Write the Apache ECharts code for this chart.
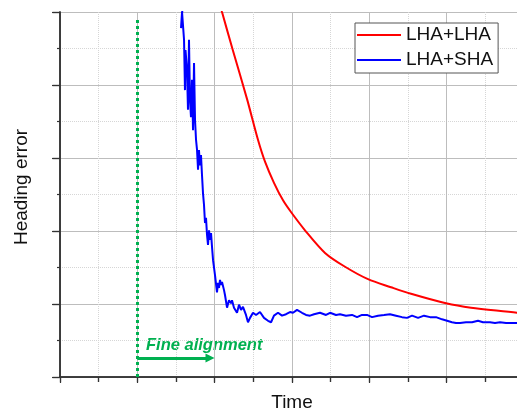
<!DOCTYPE html>
<html>
<head>
<meta charset="utf-8">
<script src="https://cdn.jsdelivr.net/npm/echarts@6/dist/echarts.min.js"></script>
<style>
html,body{margin:0;padding:0;background:#fff;}
#chart{width:517px;height:409px;}
</style>
</head>
<body>
<div id="chart"></div>
<script>
// Data (x: time, 0..6 ; y: heading error, 0..5)
const seriesNames = ['LHA+LHA', 'LHA+SHA'];
const lhaLha = [[2.056,5.16],[2.095,5.00],[2.237,4.47],[2.418,3.81],[2.560,3.25],[2.651,2.95],[2.767,2.66],[2.884,2.42],[2.987,2.26],[3.168,2.01],[3.427,1.70],[3.686,1.51],[3.983,1.34],[4.280,1.23],[4.539,1.14],[4.992,1.01],[5.315,0.95],[5.910,0.88],[6.0,0.86]];
const lhaSha = [[1.591,5.16],[1.565,4.78],[1.578,5.00],[1.604,4.62],[1.616,3.93],[1.623,4.48],[1.642,4.21],[1.655,3.66],[1.668,4.62],[1.681,3.79],[1.694,3.56],[1.707,4.07],[1.720,3.38],[1.733,4.30],[1.746,3.52],[1.759,3.25],[1.772,3.11],[1.785,2.84],[1.797,3.11],[1.810,2.90],[1.823,3.04],[1.836,2.77],[1.849,2.52],[1.862,2.36],[1.875,2.11],[1.888,2.18],[1.901,1.95],[1.914,1.81],[1.927,2.01],[1.940,1.88],[1.953,1.97],[1.966,1.78],[1.979,1.60],[2.004,1.40],[2.030,1.16],[2.043,1.29],[2.056,1.22],[2.069,1.33],[2.082,1.26],[2.095,1.30],[2.121,1.19],[2.134,1.12],[2.160,0.95],[2.185,1.05],[2.211,1.01],[2.224,1.05],[2.250,0.95],[2.289,0.88],[2.315,0.99],[2.341,0.92],[2.366,0.96],[2.405,0.85],[2.431,0.75],[2.457,0.81],[2.496,0.88],[2.535,0.85],[2.586,0.89],[2.638,0.81],[2.690,0.77],[2.729,0.75],[2.767,0.84],[2.819,0.88],[2.871,0.84],[2.923,0.86],[2.974,0.89],[3.013,0.88],[3.065,0.92],[3.129,0.88],[3.181,0.85],[3.233,0.84],[3.285,0.86],[3.362,0.88],[3.440,0.85],[3.492,0.88],[3.569,0.85],[3.621,0.86],[3.698,0.84],[3.776,0.85],[3.841,0.82],[3.905,0.85],[3.970,0.85],[4.035,0.82],[4.112,0.84],[4.190,0.85],[4.267,0.86],[4.345,0.84],[4.423,0.82],[4.487,0.81],[4.552,0.84],[4.630,0.81],[4.707,0.84],[4.785,0.82],[4.862,0.82],[4.940,0.79],[5.005,0.77],[5.069,0.75],[5.121,0.74],[5.173,0.74],[5.250,0.75],[5.328,0.75],[5.405,0.77],[5.470,0.75],[5.561,0.75],[5.625,0.74],[5.690,0.75],[5.768,0.74],[5.845,0.74],[5.910,0.74],[6.000,0.74]];
const fineStartX = 1;        // start of fine alignment
const fineArrowEndX = 1.94;  // arrow end
const fineArrowY = 0.26;
const fineLineTopY = 4.89;
const xRange = [0, 6];
const yRange = [0, 5];
const xTitle = 'Time';
const yTitle = 'Heading error';
const annotation = 'Fine alignment';

const FONT = '"Liberation Sans", Arial, sans-serif';
const GREEN = '#00b050';
const chart = echarts.init(document.getElementById('chart'), null, {renderer: 'canvas'});

const axisLine = {show: true, lineStyle: {color: '#333', width: 1.5}};
const option = {
  animation: false,
  backgroundColor: '#fff',
  grid: {left: 60, top: 12, width: 464, height: 365, containLabel: false, outerBoundsMode: 'none'},
  legend: {
    data: seriesNames, orient: 'vertical', left: 355, top: 23,
    icon: 'rect', itemWidth: 44, itemHeight: 2, itemGap: 5,
    padding: [2, 5, 3, 2], borderColor: '#555', borderWidth: 1, backgroundColor: '#fff',
    textStyle: {fontSize: 19, lineHeight: 20, color: '#111', fontFamily: FONT}
  },
  xAxis: [{
    type: 'value', min: xRange[0], max: xRange[1], interval: 1, position: 'bottom',
    axisLine: axisLine,
    axisTick: {show: true, length: 6, lineStyle: {color: '#333', width: 1.2}},
    minorTick: {show: true, splitNumber: 2, length: 5, lineStyle: {color: '#333', width: 1.2}},
    splitLine: {show: true, lineStyle: {color: '#bdbdbd', width: 1}},
    minorSplitLine: {show: true, lineStyle: {color: '#d6d6d6', width: 1, type: 'dotted'}},
    axisLabel: {show: false},
    name: xTitle, nameLocation: 'middle', nameGap: 16,
    nameTextStyle: {fontSize: 19, color: '#111', fontFamily: FONT}
  }, {
    type: 'value', min: xRange[0], max: xRange[1], interval: 1, position: 'top',
    axisLine: axisLine,
    axisTick: {show: true, inside: true, length: 5, lineStyle: {color: '#333', width: 1.2}},
    minorTick: {show: true, splitNumber: 2, length: 5, lineStyle: {color: '#333', width: 1.2}},
    splitLine: {show: false}, axisLabel: {show: false}
  }],
  yAxis: [{
    type: 'value', min: yRange[0], max: yRange[1], interval: 1, position: 'left',
    axisLine: axisLine,
    axisTick: {show: true, length: 7, lineStyle: {color: '#333', width: 1.2}},
    minorTick: {show: true, splitNumber: 2, length: 3, lineStyle: {color: '#333', width: 1.2}},
    splitLine: {show: true, lineStyle: {color: '#bdbdbd', width: 1}},
    minorSplitLine: {show: true, lineStyle: {color: '#d6d6d6', width: 1, type: 'dotted'}},
    axisLabel: {show: false}
  }, {
    type: 'value', min: yRange[0], max: yRange[1], interval: 1, position: 'right',
    axisLine: axisLine,
    axisTick: {show: true, inside: true, length: 8, lineStyle: {color: '#333', width: 1.2}},
    splitLine: {show: false}, axisLabel: {show: false}
  }],
  series: [{
    name: seriesNames[0], type: 'line', data: lhaLha, showSymbol: false, smooth: 0.3,
    lineStyle: {color: '#ff0000', width: 2}, itemStyle: {color: '#ff0000'}, z: 3
  }, {
    name: seriesNames[1], type: 'line', data: lhaSha, showSymbol: false,
    lineStyle: {color: '#0000ff', width: 2}, itemStyle: {color: '#0000ff'}, z: 4
  }, {
    name: 'fineLine', type: 'line', data: [], z: 5,
    markLine: {
      silent: true, symbol: ['none', 'none'], label: {show: false},
      lineStyle: {color: GREEN, width: 3, type: 'dotted'},
      emphasis: {disabled: true},
      data: [[{coord: [fineStartX, 0]}, {coord: [fineStartX, fineLineTopY]}]]
    }
  }, {
    name: 'fineArrow', type: 'line', data: [], z: 5,
    markLine: {
      silent: true, symbol: ['none', 'triangle'], symbolSize: [9, 9], label: {show: false},
      lineStyle: {color: GREEN, width: 3, type: 'solid'},
      itemStyle: {color: GREEN},
      emphasis: {disabled: true},
      data: [[{coord: [fineStartX, fineArrowY]}, {coord: [fineArrowEndX, fineArrowY]}]]
    }
  }],
  graphic: [{
    type: 'text', x: 22, y: 187, rotation: Math.PI / 2,
    style: {text: yTitle, fill: '#111', font: '19px ' + FONT, align: 'center', verticalAlign: 'middle'}
  }, {
    type: 'text', x: 146, y: 345,
    style: {text: annotation, fill: GREEN, font: 'italic bold 16.5px ' + FONT, align: 'left', verticalAlign: 'middle'}
  }]
};
chart.setOption(option);
</script>
</body>
</html>
